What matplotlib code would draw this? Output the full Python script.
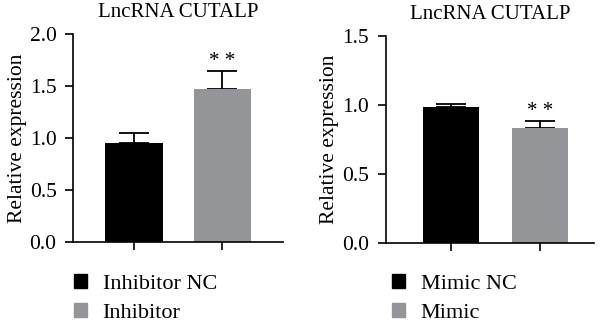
import matplotlib.pyplot as plt
from matplotlib.patches import Patch

plt.rcParams['font.family'] = ['Liberation Serif', 'DejaVu Serif']

title = "LncRNA CUTALP"
ylabel = "Relative expression"

left_groups = ["Inhibitor NC", "Inhibitor"]
left_means = [0.95, 1.47]
left_err = [0.10, 0.18]

right_groups = ["Mimic NC", "Mimic"]
right_means = [0.985, 0.835]
right_err = [0.025, 0.05]

colors = ["#000000", "#939598"]


def draw(ax, groups, means, err, ylim, yticks, xlim, width):
	x = list(range(len(groups)))
	ax.bar(x, means, width=width, color=colors, zorder=2)
	ax.errorbar(x, means, yerr=[[0] * len(err), err], fmt="none", ecolor="black",
				elinewidth=1.3, capsize=11, capthick=1.3, zorder=1)
	ax.text(1, means[1] + err[1], "* *", ha="center", va="bottom", fontsize=15)
	ax.set_ylim(*ylim)
	ax.set_xlim(*xlim)
	ax.set_yticks(yticks)
	ax.set_yticklabels(["%.1f" % t for t in yticks], fontsize=15.5)
	ax.set_xticks(x)
	ax.set_xticklabels([])
	ax.tick_params(axis="both", length=6, width=1.2, pad=6)
	ax.spines["top"].set_visible(False)
	ax.spines["right"].set_visible(False)
	ax.spines["left"].set_linewidth(1.2)
	ax.spines["bottom"].set_linewidth(1.2)
	ax.set_title(title, fontsize=15, pad=12)
	ax.set_ylabel(ylabel, fontsize=15.5, labelpad=2)


fig = plt.figure(figsize=(6, 3.22), dpi=100)
ax1 = fig.add_axes([0.122, 0.248, 0.35, 0.646])
ax2 = fig.add_axes([0.643, 0.245, 0.347, 0.643])

draw(ax1, left_groups, left_means, left_err, (0, 2.0), [0, 0.5, 1.0, 1.5, 2.0], (-0.69, 1.69), 0.65)
draw(ax2, right_groups, right_means, right_err, (0, 1.5), [0, 0.5, 1.0, 1.5], (-0.73, 1.61), 0.63)

h1 = [Patch(color=c) for c in colors]
leg_kw = dict(loc="upper left", frameon=False, fontsize=16, handlelength=0.6, handleheight=0.6,
			  handletextpad=0.7, labelspacing=0.4, borderpad=0, borderaxespad=0)
fig.legend(h1, left_groups, bbox_to_anchor=(0.123, 0.148), **leg_kw)
fig.legend(h1, right_groups, bbox_to_anchor=(0.653, 0.148), **leg_kw)

fig.savefig("out.png", dpi=100)
